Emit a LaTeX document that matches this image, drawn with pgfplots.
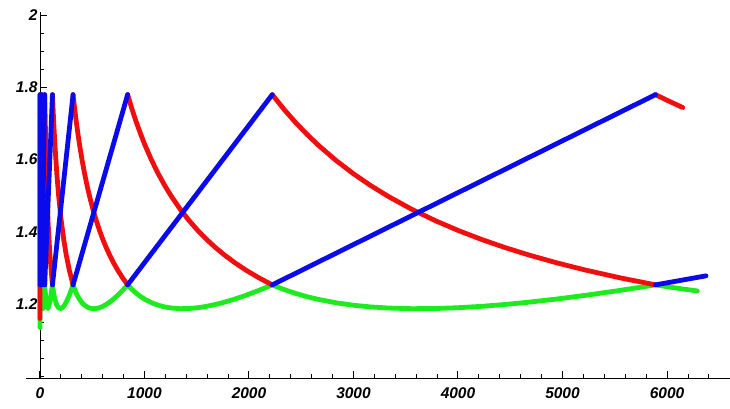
\documentclass[border=0pt]{standalone}
\usepackage{fontspec}
\setmainfont{Liberation Sans}
\usepackage{pgfplots}
\pgfplotsset{compat=1.18}
\definecolor{cblue}{RGB}{10,10,235}
\definecolor{cred}{RGB}{240,15,15}
\definecolor{cgreen}{RGB}{30,235,30}
\newcommand{\tfont}{\fontsize{15.5}{15.5}\selectfont\bfseries\itshape}
\begin{document}
\begin{tikzpicture}
\begin{axis}[
  scale only axis, width=703.3pt, height=366.4pt,
  xmin=-130, xmax=6600, ymin=0.995, ymax=2.01,
  axis x line*=bottom, axis y line*=middle,
  axis line style={black, line width=0.9pt, -},
  xtick={0,1000,2000,3000,4000,5000,6000},
  minor xtick={200,400,600,800,1200,1400,1600,1800,2200,2400,2600,2800,3200,3400,3600,3800,4200,4400,4600,4800,5200,5400,5600,5800,6200,6400},
  ytick={1.2,1.4,1.6,1.8,2},
  minor ytick={1.0,1.05,1.1,1.15,1.25,1.3,1.35,1.45,1.5,1.55,1.65,1.7,1.75,1.85,1.9,1.95},
  tick align=inside, major tick length=7pt, minor tick length=4pt,
  major tick style={black, line width=1pt},
  minor tick style={black, line width=0.8pt},
  xticklabel={\tfont\pgfmathprintnumber[assume math mode=true,1000 sep={}]{\tick}},
  yticklabel={\tfont\pgfmathprintnumber[assume math mode=true]{\tick}},
  xticklabel style={yshift=-6pt},
  yticklabel style={xshift=1pt},
  unbounded coords=jump,
  every axis plot/.append style={line width=4.8pt, line cap=round, line join=round, mark=none},
]
% green
\addplot[cgreen] coordinates {
(0,1.135) (0.345,1.253) (0.552,1.187) (0.914,1.253) (1.462,1.187) (2.422,1.253)
(3.875,1.187) (6.418,1.253) (10.27,1.187) (17.01,1.253) (27.22,1.187) (45.07,1.253)
(60.84,1.19654) (76.62,1.18746) (94.65,1.20474) (119.4,1.253)
(131.3,1.22939) (143.3,1.21252) (161.2,1.19654) (179.1,1.18879) (203.0,1.18746) (226.9,1.19348) (250.7,1.20474) (280.6,1.22412) (316.5,1.253)
(332.3,1.24024) (348.2,1.22939) (364.0,1.22022) (379.8,1.21252) (403.5,1.20331) (427.3,1.19654) (451.0,1.19178) (474.8,1.18879) (506.4,1.18703) (538.1,1.18746) (569.7,1.18971) (601.4,1.19348) (633.0,1.19855) (664.7,1.20474) (704.2,1.21379) (743.8,1.22412) (791.3,1.23792) (838.7,1.253)
(880.6,1.24024) (922.6,1.22939) (964.5,1.22022) (1006.4,1.21252) (1069.3,1.20331) (1132.2,1.19654) (1195.1,1.19178) (1258.1,1.18879) (1341.9,1.18703) (1425.8,1.18746) (1509.7,1.18971) (1593.5,1.19348) (1677.4,1.19855) (1761.3,1.20474) (1866.1,1.21379) (1970.9,1.22412) (2096.8,1.23792) (2222.6,1.253)
(2333.7,1.24024) (2444.9,1.22939) (2556.0,1.22022) (2667.1,1.21252) (2833.8,1.20331) (3000.5,1.19654) (3167.2,1.19178) (3333.9,1.18879) (3556.2,1.18703) (3778.4,1.18746) (4000.7,1.18971) (4222.9,1.19348) (4445.2,1.19855) (4667.5,1.20474) (4945.3,1.21379) (5223.1,1.22412) (5556.5,1.23792) (5890,1.253)
(6096,1.24385) (6290,1.23615)
};
% red
\addplot[cred] coordinates {
(0,1.16) (0,1.78) (0.2,nan)
(0.345,1.78) (0.552,1.4626) (0.914,1.253) (0.914,nan)
(0.914,1.78) (1.462,1.4626) (2.422,1.253) (2.422,nan)
(2.422,1.78) (3.875,1.4626) (6.418,1.253) (6.418,nan)
(6.418,1.78) (10.27,1.4626) (17.01,1.253) (17.01,nan)
(17.01,1.78) (27.22,1.4626) (45.07,1.253) (45.07,nan)
(45.07,1.78) (60.84,1.56056) (76.62,1.43148) (94.65,1.33665) (119.4,1.253) (119.4,nan)
(119.4,1.78) (131.3,1.70305) (143.3,1.63893) (161.2,1.56056) (179.1,1.49787) (203.0,1.43148) (226.9,1.37907) (250.7,1.33665) (280.6,1.29377) (316.5,1.253) (316.5,nan)
(316.5,1.78) (332.3,1.73970) (348.2,1.70305) (364.0,1.66960) (379.8,1.63893) (403.5,1.59744) (427.3,1.56056) (451.0,1.52756) (474.8,1.49787) (506.4,1.46260) (538.1,1.43148) (569.7,1.40382) (601.4,1.37907) (633.0,1.35680) (664.7,1.33665) (704.2,1.31400) (743.8,1.29377) (791.3,1.27216) (838.7,1.253) (838.7,nan)
(838.7,1.78) (880.6,1.73970) (922.6,1.70305) (964.5,1.66960) (1006.4,1.63893) (1069.3,1.59744) (1132.2,1.56056) (1195.1,1.52756) (1258.1,1.49787) (1341.9,1.46260) (1425.8,1.43148) (1509.7,1.40382) (1593.5,1.37907) (1677.4,1.35680) (1761.3,1.33665) (1866.1,1.31400) (1970.9,1.29377) (2096.8,1.27216) (2222.6,1.253) (2222.6,nan)
(2222.6,1.78) (2333.7,1.73970) (2444.9,1.70305) (2556.0,1.66960) (2667.1,1.63893) (2833.8,1.59744) (3000.5,1.56056) (3167.2,1.52756) (3333.9,1.49787) (3556.2,1.46260) (3778.4,1.43148) (4000.7,1.40382) (4222.9,1.37907) (4445.2,1.35680) (4667.5,1.33665) (4945.3,1.31400) (5223.1,1.29377) (5556.5,1.27216) (5890,1.253) (5890,nan)
(5890,1.78) (6020,1.7617) (6150,1.7443)
};
% blue
\addplot[cblue] coordinates {
(0.130,1.253) (0.345,1.78) (0.345,nan)
(0.345,1.253) (0.914,1.78) (0.914,nan)
(0.914,1.253) (2.422,1.78) (2.422,nan)
(2.422,1.253) (6.418,1.78) (6.418,nan)
(6.418,1.253) (17.01,1.78) (17.01,nan)
(17.01,1.253) (45.07,1.78) (45.07,nan)
(45.07,1.253) (119.4,1.78) (119.4,nan)
(119.4,1.253) (316.5,1.78) (316.5,nan)
(316.5,1.253) (838.7,1.78) (838.7,nan)
(838.7,1.253) (2222.6,1.78) (2222.6,nan)
(2222.6,1.253) (5890,1.78) (5890,nan)
(5890,1.253) (6373,1.278)
};
\end{axis}
\pgfresetboundingbox
\path (-26.4pt,-30pt) rectangle (703.6pt,378pt);
\end{tikzpicture}
\end{document}
